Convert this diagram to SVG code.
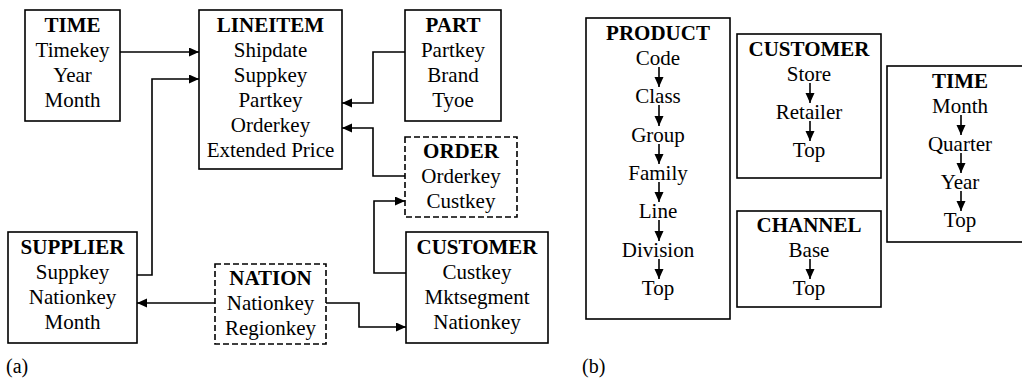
<svg xmlns="http://www.w3.org/2000/svg" width="1022" height="382" viewBox="0 0 1022 382">
<style>
  .box{fill:#fff;stroke:#000;stroke-width:1.6}
  .dash{stroke-dasharray:6 3}
  text{font-family:'Liberation Serif','Times New Roman',Tinos,'Noto Serif','DejaVu Serif',FreeSerif,'Nimbus Roman',Times,serif;font-size:21px;font-weight:normal;font-style:normal;fill:#000;text-anchor:middle}
  text.t{font-weight:bold}
  text.lbl{text-anchor:start;font-size:20px}
  .c{fill:none;stroke:#000;stroke-width:1.6}
</style>
<defs>
  <marker id="ah" markerUnits="userSpaceOnUse" markerWidth="11" markerHeight="10" refX="10" refY="4.5" orient="auto">
    <path d="M0,0 L10,4.5 L0,9 z" fill="#000"/>
  </marker>
</defs>
<rect width="1022" height="382" fill="#fff"/>
<g id="a-time">
  <rect class="box" x="25" y="10" width="95" height="111"/>
  <text class="t" x="72.5" y="32">TIME</text>
  <text x="72.5" y="57">Timekey</text>
  <text x="72.5" y="82">Year</text>
  <text x="72.5" y="107">Month</text>
</g>
<g id="a-lineitem">
  <rect class="box" x="199" y="10" width="143" height="159"/>
  <text class="t" x="270.5" y="32">LINEITEM</text>
  <text x="270.5" y="57">Shipdate</text>
  <text x="270.5" y="82">Suppkey</text>
  <text x="270.5" y="107">Partkey</text>
  <text x="270.5" y="132">Orderkey</text>
  <text x="270.5" y="157">Extended Price</text>
</g>
<g id="a-part">
  <rect class="box" x="405" y="10" width="96" height="111"/>
  <text class="t" x="453" y="32">PART</text>
  <text x="453" y="57">Partkey</text>
  <text x="453" y="82">Brand</text>
  <text x="453" y="107">Tyoe</text>
</g>
<g id="a-order">
  <rect class="box dash" x="405" y="137" width="112" height="80"/>
  <text class="t" x="461" y="158">ORDER</text>
  <text x="461" y="183">Orderkey</text>
  <text x="461" y="208">Custkey</text>
</g>
<g id="a-supplier">
  <rect class="box" x="8" y="232" width="129" height="111"/>
  <text class="t" x="72.5" y="254">SUPPLIER</text>
  <text x="72.5" y="279">Suppkey</text>
  <text x="72.5" y="304">Nationkey</text>
  <text x="72.5" y="329">Month</text>
</g>
<g id="a-nation">
  <rect class="box dash" x="215" y="264" width="111" height="80"/>
  <text class="t" x="270.5" y="285">NATION</text>
  <text x="270.5" y="310">Nationkey</text>
  <text x="270.5" y="335">Regionkey</text>
</g>
<g id="a-customer">
  <rect class="box" x="406" y="232" width="142" height="111"/>
  <text class="t" x="477" y="254">CUSTOMER</text>
  <text x="477" y="279">Custkey</text>
  <text x="477" y="304">Mktsegment</text>
  <text x="477" y="329">Nationkey</text>
</g>

<g id="connectors-a">
  <path class="c" d="M120,52 H199" marker-end="url(#ah)"/>
  <path class="c" d="M137,275 H152 V79 H199" marker-end="url(#ah)"/>
  <path class="c" d="M405,52 H373 V103 H342" marker-end="url(#ah)"/>
  <path class="c" d="M405,176 H373 V128 H342" marker-end="url(#ah)"/>
  <path class="c" d="M406,273 H374 V201 H405" marker-end="url(#ah)"/>
  <path class="c" d="M215,303 H137" marker-end="url(#ah)"/>
  <path class="c" d="M326,303 H359 V327 H406" marker-end="url(#ah)"/>
</g>

<text class="lbl" x="6" y="373">(a)</text>

<g id="b-product">
  <rect class="box" x="586" y="18" width="144" height="301"/>
  <text class="t" x="658" y="40">PRODUCT</text>
  <text x="658" y="65">Code</text>
  <text x="658" y="103">Class</text>
  <text x="658" y="142">Group</text>
  <text x="658" y="180">Family</text>
  <text x="658" y="218">Line</text>
  <text x="658" y="257">Division</text>
  <text x="658" y="295">Top</text>
</g>
<g id="b-customer">
  <rect class="box" x="737" y="34" width="144" height="144"/>
  <text class="t" x="809" y="56">CUSTOMER</text>
  <text x="809" y="81">Store</text>
  <text x="809" y="119">Retailer</text>
  <text x="809" y="157">Top</text>
</g>
<g id="b-channel">
  <rect class="box" x="737" y="211" width="144" height="96"/>
  <text class="t" x="809" y="232">CHANNEL</text>
  <text x="809" y="257">Base</text>
  <text x="809" y="295">Top</text>
</g>
<g id="b-time">
  <rect class="box" x="887" y="66" width="146" height="176"/>
  <text class="t" x="960" y="88">TIME</text>
  <text x="960" y="113">Month</text>
  <text x="960" y="151">Quarter</text>
  <text x="960" y="189">Year</text>
  <text x="960" y="227">Top</text>
</g>

<g id="connectors-b">
  <path class="c" d="M659,67 V87" marker-end="url(#ah)"/>
  <path class="c" d="M659,105 V126" marker-end="url(#ah)"/>
  <path class="c" d="M659,144 V164" marker-end="url(#ah)"/>
  <path class="c" d="M659,182 V202" marker-end="url(#ah)"/>
  <path class="c" d="M659,220 V241" marker-end="url(#ah)"/>
  <path class="c" d="M659,259 V279" marker-end="url(#ah)"/>
  <path class="c" d="M810,83 V103" marker-end="url(#ah)"/>
  <path class="c" d="M810,121 V141" marker-end="url(#ah)"/>
  <path class="c" d="M810,259 V279" marker-end="url(#ah)"/>
  <path class="c" d="M961,115 V135" marker-end="url(#ah)"/>
  <path class="c" d="M961,153 V173" marker-end="url(#ah)"/>
  <path class="c" d="M961,191 V211" marker-end="url(#ah)"/>
</g>

<text class="lbl" x="582" y="373">(b)</text>
</svg>
